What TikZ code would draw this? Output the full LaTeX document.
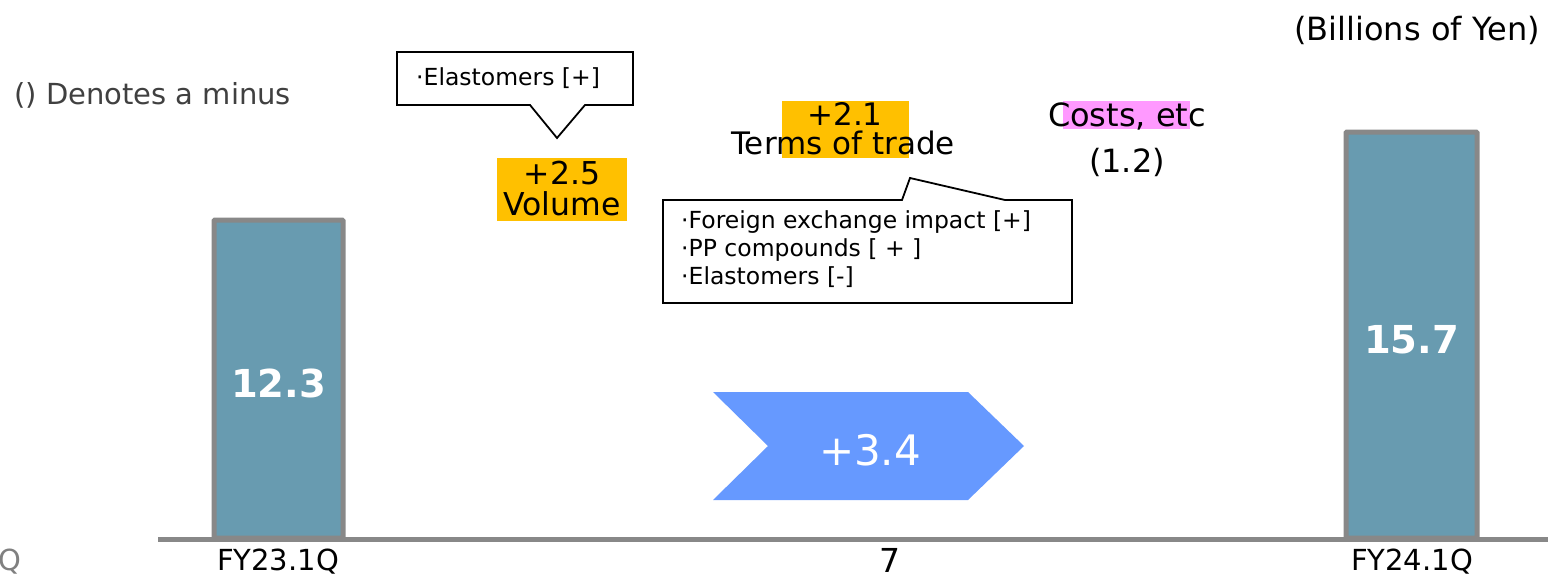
\documentclass[tikz,border=0pt]{standalone}
\usepackage{fontspec}
\setmainfont{DejaVu Sans}
\definecolor{barfill}{HTML}{689BB0}
\definecolor{bargray}{HTML}{888888}
\definecolor{hlyellow}{HTML}{FFC000}
\definecolor{hlpink}{HTML}{FF99FF}
\definecolor{chev}{HTML}{6699FF}
\definecolor{txtgray}{HTML}{404040}
\begin{document}
\begin{tikzpicture}[x=1pt,y=-1pt,
  bigtxt/.style={font=\fontsize{31}{32}\selectfont, inner sep=0pt},
  smalltxt/.style={font=\fontsize{23.5}{28}\selectfont, inner sep=0pt},
  barbox/.style={draw=bargray, line width=5pt, fill=barfill, rounded corners=1pt, inner sep=0pt},
  barnum/.style={font=\fontsize{38.5}{40}\selectfont\bfseries, text=white, inner sep=0pt},
  callout/.style={draw=black, line width=1.8pt, fill=white, line join=miter},
]
\useasboundingbox (0,0) rectangle (1548,578);

% header texts
\node[bigtxt, font=\fontsize{32}{34}\selectfont, anchor=east] (unit) at (1540,30) {(Billions of Yen)};
\node[bigtxt, anchor=west, text=txtgray, font=\fontsize{29}{30}\selectfont] (note) at (14,95) {() Denotes a minus};

% axis
\coordinate (axL) at (158,539);
\coordinate (axR) at (1548,539);
\draw[bargray, line width=5pt] (axL) -- (axR);

% bars
\node[barbox, minimum width=129pt, minimum height=318pt] (bar1) at (278.5,379) {};
\node[barnum] (v1) at (278.5,383) {12.3};
\node[barbox, minimum width=131pt, minimum height=406pt] (bar2) at (1411.5,335) {};
\node[barnum] (v2) at (1411.5,340) {15.7};

% axis labels
\node[bigtxt, font=\fontsize{29}{30}\selectfont] (lab1) at (278,562) {FY23.1Q};
\node[bigtxt, font=\fontsize{29}{30}\selectfont] (lab2) at (1412,562) {FY24.1Q};
\node[bigtxt, font=\fontsize{33}{35}\selectfont] (page) at (890,560) {7};
\node[bigtxt, font=\fontsize{29}{30}\selectfont, text=gray, anchor=east] (cut) at (22,562) {Q};

% callout 1
\draw[callout] (397,52) -- (633,52) -- (633,105) -- (585,105) -- (557,138) -- (530,105) -- (397,105) -- cycle;
\node[smalltxt, anchor=west] (c1) at (416,78) {·Elastomers [+]};

% volume highlight
\node[fill=hlyellow, minimum width=130pt, minimum height=63pt, inner sep=0pt] (volbg) at (562,189.5) {};
\node[bigtxt, align=center, font=\fontsize{31.5}{31}\selectfont] (vol) at (562,189) {+2.5\\Volume};

% terms of trade highlight
\node[fill=hlyellow, minimum width=127pt, minimum height=57pt, inner sep=0pt] (totbg) at (845.5,129.5) {};
\node[bigtxt] (tot1) at (845,114) {+2.1};
\node[bigtxt] (tot2) at (843,143) {Terms of trade};

% costs highlight
\node[fill=hlpink, minimum width=127pt, minimum height=28pt, inner sep=0pt] (cbg) at (1126.5,115) {};
\node[bigtxt, font=\fontsize{32}{34}\selectfont] (cost1) at (1127,116) {Costs, etc};
\node[bigtxt, font=\fontsize{32}{34}\selectfont] (cost2) at (1127,162) {(1.2)};

% callout 2
\draw[callout] (663,200) -- (902,200) -- (910,178) -- (1005,200) -- (1072,200) -- (1072,303) -- (663,303) -- cycle;
\node[smalltxt, anchor=north west, align=left] (c2) at (681,210) {·Foreign exchange impact [+]\\·PP compounds [ + ]\\·Elastomers [-]};

% chevron
\fill[chev] (713,392) -- (968,392) -- (1024,446) -- (968,500) -- (713,500) -- (768,446) -- cycle;
\node[text=white, font=\fontsize{42}{44}\selectfont, inner sep=0pt] (tot) at (870,450) {+3.4};
\end{tikzpicture}
\end{document}
